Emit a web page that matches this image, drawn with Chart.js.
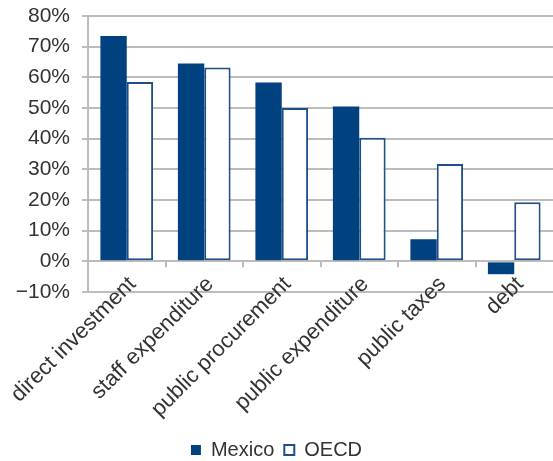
<!DOCTYPE html>
<html>
<head>
<meta charset="utf-8">
<script src="https://cdn.jsdelivr.net/npm/chart.js@4/dist/chart.umd.min.js"></script>
<style>
  html, body { margin: 0; padding: 0; background: #fff; overflow: hidden; }
  #wrap { width: 553px; height: 461px; }
</style>
</head>
<body>
<div id="wrap"><canvas id="govChart"></canvas></div>
<script>
// Categories and shares (percent) for each series
const categories = ["direct investment", "staff expenditure", "public procurement", "public expenditure", "public taxes", "debt"];
const mexicoValues = [73.5, 64.5, 58.3, 50.5, 7.2, -4.2];
const oecdValues = [58.5, 63.2, 50.0, 40.3, 31.7, 19.3];
const yTicks = { min: -10, max: 80, step: 10 };

const navy = "#00427f";
const gridGray = "#bcbcbc";
const textColor = "#333333";
const fontFamily = "'Liberation Sans', Arial, sans-serif";

// tick marks below the zero line plus the slanted category labels,
// which sit partly above the bottom gridline so they can't use the clipped axis labels
const categoryAxis = {
  id: "categoryAxis",
  afterDatasetsDraw(chart) {
    const xs = chart.scales.x;
    const ys = chart.scales.y;
    const y0 = ys.getPixelForValue(0);
    const yBottom = ys.getPixelForValue(yTicks.min);
    const c = chart.ctx;
    c.save();
    c.strokeStyle = gridGray;
    c.lineWidth = 2;
    for (let i = 1; i < categories.length; i++) {
      const x = Math.round(xs.getPixelForValue(i - 0.5));
      c.beginPath();
      c.moveTo(x, y0);
      c.lineTo(x, y0 + 6);
      c.stroke();
    }
    c.fillStyle = textColor;
    c.font = "22px " + fontFamily;
    c.textAlign = "right";
    c.textBaseline = "top";
    categories.forEach((name, i) => {
      c.save();
      c.translate(xs.getPixelForValue(i) - 2, yBottom - 19);
      c.rotate(-Math.PI / 4);
      c.fillText(name, 0, 0);
      c.restore();
    });
    c.restore();
  }
};

const ctx = document.getElementById("govChart").getContext("2d");
const govChart = new Chart(ctx, {
  type: "bar",
  data: {
    labels: categories,
    datasets: [
      {
        label: "Mexico",
        data: mexicoValues,
        backgroundColor: navy,
        borderColor: navy,
        borderWidth: 0,
        categoryPercentage: 0.68,
        barPercentage: 1.0,
      },
      {
        label: "OECD",
        data: oecdValues,
        backgroundColor: "#ffffff",
        borderColor: "#1f4f8a",
        borderWidth: 2,
        borderSkipped: false,
        categoryPercentage: 0.68,
        barPercentage: 1.0,
      },
    ],
  },
  options: {
    responsive: true,
    maintainAspectRatio: false,
    animation: false,
    layout: { padding: { top: 0, right: 0, left: 0, bottom: -9 } },
    scales: {
      x: {
        grid: { display: false },
        border: { display: false },
        afterFit: (s) => { s.height = 138; s.paddingLeft = 0; s.paddingRight = 0; },
        ticks: { display: false },
      },
      y: {
        min: yTicks.min,
        max: yTicks.max,
        afterFit: (s) => { s.width = 88; s.paddingTop = 16; s.paddingBottom = 0; },
        grid: { color: gridGray, lineWidth: 2, tickLength: 6 },
        border: { color: gridGray, width: 2 },
        ticks: {
          stepSize: yTicks.step,
          color: textColor,
          font: { family: fontFamily, size: 21 },
          padding: 12,
          callback: (v) => (v < 0 ? "\u2212" + Math.abs(v) : v) + "%",
        },
      },
    },
    plugins: {
      tooltip: { enabled: false },
      legend: {
        position: "bottom",
        labels: {
          color: textColor,
          font: { family: fontFamily, size: 20 },
          boxWidth: 10,
          boxHeight: 10,
          padding: 10,
        },
      },
    },
  },
  plugins: [categoryAxis],
});
</script>
</body>
</html>
